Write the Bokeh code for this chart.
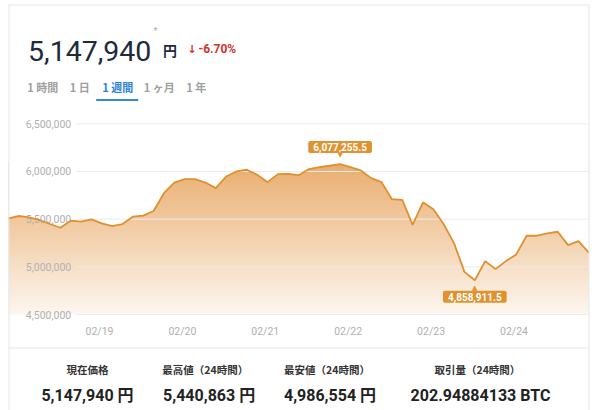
import numpy as np
import pandas as pd
from bokeh.plotting import figure
from bokeh.models import Range1d, Label, ColumnDataSource
from bokeh.core.properties import value
from bokeh.embed import file_html
from bokeh.resources import INLINE

# ---------------- data ----------------
times = pd.date_range("2021-02-17 21:40", periods=57, freq="3h")
prices = [
    5509000, 5533000, 5519000, 5491000, 5449000, 5410000, 5484000, 5474000,
    5498000, 5456000, 5428000, 5449000, 5526000, 5537000, 5586000, 5772000,
    5884000, 5919000, 5919000, 5884000, 5825000, 5947000, 6000000, 6018000,
    5965000, 5888000, 5972000, 5975000, 5961000, 6025000, 6046000, 6060000,
    6077255.5, 6046000, 6011000, 5930000, 5888000, 5709000, 5702000, 5439000,
    5677000, 5604000, 5446000, 5246000, 4947000, 4858911.5, 5060000, 4976000,
    5060000, 5130000, 5326000, 5326000, 5351000, 5368000, 5228000, 5270000,
    5147940,
]
y_ticks = [4500000, 5000000, 5500000, 6000000, 6500000]
y_tick_labels = ["4,500,000", "5,000,000", "5,500,000", "6,000,000", "6,500,000"]
x_tick_dates = pd.to_datetime(["2021-02-19", "2021-02-20", "2021-02-21",
                               "2021-02-22", "2021-02-23", "2021-02-24"])
x_tick_labels = ["02/19", "02/20", "02/21", "02/22", "02/23", "02/24"]

current_price = "5,147,940"
currency = "円"
change_pct = "-6.70%"
tabs = ["1 時間", "1 日", "1 週間", "1 ヶ月", "1 年"]
active_tab = 2
stat_titles = ["現在価格", "最高値（24時間）", "最安値（24時間）", "取引量（24時間）"]
stat_values = ["5,147,940 円", "5,440,863 円", "4,986,554 円", "202.94884133 BTC"]

# ---------------- geometry (page pixels) ----------------
W, H = 600, 410
x_first_px, x_last_px = 8.0, 588.3
y_top_px, y_bot_px = 123.3, 314.0      # pixel rows of 6.5M and 4.5M
ms = lambda t: pd.Timestamp(t).value / 1e6
t0 = ms(times[0])
span = ms(times[-1]) - t0
ms_per_px = span / (x_last_px - x_first_px)
x_start = t0 - x_first_px * ms_per_px
x_end = t0 + (W - x_first_px) * ms_per_px
k = (y_ticks[-1] - y_ticks[0]) / (y_bot_px - y_top_px)
y_hi = y_ticks[-1] + y_top_px * k
y_lo = y_ticks[0] - (H - y_bot_px) * k

p = figure(width=W, height=H, x_range=Range1d(x_start, x_end), y_range=Range1d(y_lo, y_hi),
           output_backend="svg", toolbar_location=None,
           x_axis_location=None, y_axis_location=None, min_border=0,
           outline_line_color=None, background_fill_color="white",
           border_fill_color="white")
p.xgrid.visible = False
p.ygrid.visible = False
p.grid.grid_line_color = None
p.extra_x_ranges = {"px": Range1d(0, W)}
p.extra_y_ranges = {"py": Range1d(H, 0)}

src = ColumnDataSource(dict(t=times, v=prices))

# gradient fill (image) masked above the curve
g_top_val, g_bot_val = 6100000, y_ticks[0]
top_c = np.array([233, 173, 110], float)
bot_c = np.array([253, 247, 240], float)
N = 256
fr = np.linspace(0, 1, N)[:, None]          # 0 bottom -> 1 top
cols = bot_c + (top_c - bot_c) * fr
img = np.zeros((N, 2), dtype=np.uint32)
view = img.view(dtype=np.uint8).reshape((N, 2, 4))
view[:, :, 0] = cols[:, 0:1].astype(np.uint8)
view[:, :, 1] = cols[:, 1:2].astype(np.uint8)
view[:, :, 2] = cols[:, 2:3].astype(np.uint8)
view[:, :, 3] = 255
p.image_rgba(image=[img], x=t0, y=g_bot_val, dw=span, dh=g_top_val - g_bot_val)
p.varea(x="t", y1="v", y2=g_top_val + 50000, source=src, fill_color="white")

# grid lines
p.segment(x0=76, x1=588, y0=y_ticks, y1=y_ticks, x_range_name="px",
          line_color="#ececec", line_width=1)

# y tick labels
p.text(x=70.7, y=y_ticks, text=y_tick_labels, x_range_name="px",
       text_align="right", text_baseline="middle", text_font=value("Roboto"),
       text_font_size="10.5px", text_color="#b0b0b0")
# x tick labels
p.text(x=x_tick_dates, y=331, text=x_tick_labels, y_range_name="py",
       text_align="center", text_baseline="middle", text_font=value("Roboto"),
       text_font_size="10.5px", text_color="#b0b0b0")

# price line
p.line(x="t", y="v", source=src, line_color="#e0902f", line_width=1.8)

# max / min labels
orange = "#e0922f"
i_max = int(np.argmax(prices))
i_min = int(np.argmin(prices))
for idx, off, tri, toff in [(i_max, 17, "▼", 9), (i_min, -16.5, "▲", -7.5)]:
    val = prices[idx]
    txt = f"{val:,.1f}"
    p.add_layout(Label(x=ms(times[idx]), y=val, text=txt, x_offset=0, y_offset=off,
                       text_align="center", text_baseline="middle",
                       text_font="Roboto", text_font_size="10px", text_font_style="bold",
                       text_color="white", background_fill_color=orange,
                       padding=dict(left=5, right=5, top=2, bottom=2),
                       border_radius=2))
    p.add_layout(Label(x=ms(times[idx]), y=val, text=tri, y_offset=toff,
                       text_align="center", text_baseline="middle",
                       text_font="DejaVu Sans", text_font_size="7px",
                       text_color=orange))

# card borders and separator
p.segment(x0=[8.5, 588.5, 8, 8], x1=[8.5, 588.5, 588, 588],
          y0=[4, 4, 4.5, 347.5], y1=[H, H, 4.5, 347.5],
          x_range_name="px", y_range_name="py", line_color="#e6e6e6", line_width=1)

# header
p.text(x=27.5, y=50, text=[current_price], x_range_name="px", y_range_name="py",
       text_font=value("Roboto"), text_font_size="28.5px", text_color="#1d2b3b",
       text_baseline="alphabetic")
p.text(x=153, y=30, text=["*"], x_range_name="px", y_range_name="py",
       text_font=value("Roboto"), text_font_size="9px", text_color="#aaaaaa",
       text_baseline="middle")
p.text(x=162.5, y=49.5, text=[currency], x_range_name="px", y_range_name="py",
       text_font=value("Noto Sans CJK JP"), text_font_size="14px", text_font_style="bold",
       text_color="#1d2b3b", text_baseline="alphabetic")
p.text(x=187, y=48.5, text=["↓"], x_range_name="px", y_range_name="py",
       text_font=value("DejaVu Sans"), text_font_size="11px", text_font_style="bold",
       text_color="#d0342c", text_baseline="alphabetic")
p.text(x=198, y=48.5, text=[change_pct], x_range_name="px", y_range_name="py",
       text_font=value("Roboto"), text_font_size="12px", text_font_style="bold",
       text_color="#d0342c", text_baseline="alphabetic")

# tabs
tab_x = [26.7, 69.3, 101.7, 143.3, 185.7]
tab_colors = ["#2e7fd9" if i == active_tab else "#a0a0a0" for i in range(len(tabs))]
p.text(x=tab_x, y=86, text=tabs, x_range_name="px", y_range_name="py",
       text_font=value("Noto Sans CJK JP"), text_font_size="11px", text_font_style="bold",
       text_color=tab_colors, text_baseline="middle")
p.segment(x0=95.7, x1=137.7, y0=99.5, y1=99.5, x_range_name="px", y_range_name="py",
          line_color="#3b86d8", line_width=2)

# footer stats
p.text(x=[87, 204.8, 326.5, 476.9], y=369, text=stat_titles, x_range_name="px",
       y_range_name="py", text_font=value("Noto Sans CJK JP"), text_font_size="10.5px",
       text_font_style="bold", text_color="#333333", text_align="center",
       text_baseline="middle")
p.text(x=[87, 208.6, 329.5, 480], y=395, text=stat_values, x_range_name="px",
       y_range_name="py", text_font=value("Roboto, Noto Sans CJK JP"), text_font_size="16px",
       text_font_style="bold", text_color="#222222", text_align="center",
       text_baseline="middle")

open("out.html", "w").write(file_html(p, INLINE))
